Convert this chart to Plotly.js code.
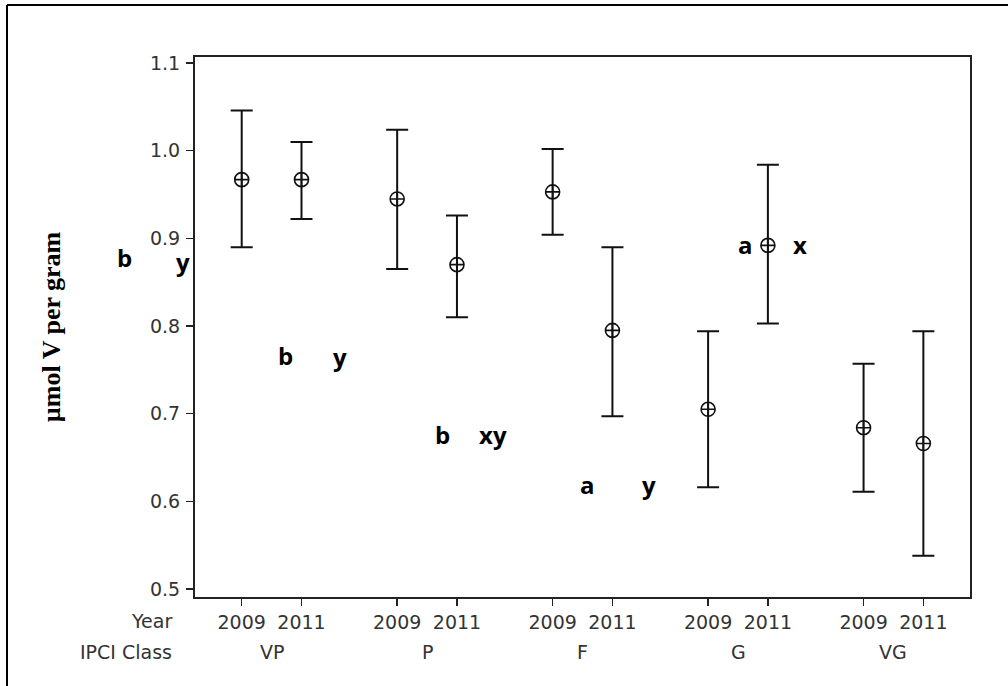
<!DOCTYPE html>
<html><head><meta charset="utf-8">
<script src="https://cdn.plot.ly/plotly-3.0.1.min.js"></script>
<style>html,body{margin:0;padding:0;background:#fff;}#chart{width:1008px;height:686px;}</style>
</head><body><div id="chart"></div>
<script>
// ---- data ----
const classes = ["VP", "P", "F", "G", "VG"];
const years = ["2009", "2011"];
const means = [0.967, 0.967, 0.945, 0.870, 0.953, 0.795, 0.705, 0.892, 0.684, 0.666];
const upper = [1.046, 1.010, 1.024, 0.926, 1.002, 0.890, 0.794, 0.984, 0.757, 0.794];
const lower = [0.890, 0.922, 0.865, 0.810, 0.904, 0.697, 0.616, 0.803, 0.611, 0.538];
const yTicks = [0.5, 0.6, 0.7, 0.8, 0.9, 1.0, 1.1];
const letters = ["b", "y", "b", "y", "b", "xy", "a", "y", "a", "x"];

// ---- layout helpers ----
const W = 1008, H = 686;
const PL = 195, PR = 970, PT = 57, PB = 597;
const GROUP_GAP = 2.6;
const px2x = p => (p - PL) / (PR - PL);
const px2y = p => (PB - p) / (PB - PT);

const xs = [], tickText = [];
classes.forEach((c, g) => years.forEach((yr, j) => { xs.push(g * GROUP_GAP + j); tickText.push(yr); }));
const errPlus = means.map((m, i) => upper[i] - m);
const errMinus = means.map((m, i) => m - lower[i]);

const textColor = "#333";
const tickFont = {family: "DejaVu Sans", size: 19, color: textColor};

const trace = {
  type: "scatter", mode: "markers", x: xs, y: means,
  marker: {symbol: "circle-cross-open", size: 14, color: "#111", line: {width: 1.6, color: "#111"}},
  error_y: {type: "data", symmetric: false, array: errPlus, arrayminus: errMinus,
            color: "#111", thickness: 2, width: 11},
  hoverinfo: "x+y", cliponaxis: false
};

// letter annotation positions (pixel centres)
const letterPos = [[124, 257], [183, 261], [285, 355], [340, 356], [442, 434], [493, 434],
                   [587, 484], [649, 484], [745, 244], [800, 245]];

const annotations = [];
letters.forEach((t, i) => annotations.push({
  text: t, xref: "paper", yref: "paper", x: px2x(letterPos[i][0]), y: px2y(letterPos[i][1]),
  xanchor: "center", yanchor: "middle", showarrow: false,
  font: {family: "Open Sans", size: 24, color: "#000", weight: "bold"}
}));
classes.forEach((c, g) => annotations.push({
  text: c, xref: "x", yref: "paper", x: g * GROUP_GAP + 0.5, y: px2y(652),
  xanchor: "center", yanchor: "middle", showarrow: false, font: tickFont
}));
annotations.push({text: "Year", xref: "paper", yref: "paper", x: px2x(174), y: px2y(621),
  xanchor: "right", yanchor: "middle", showarrow: false, font: tickFont});
annotations.push({text: "IPCI Class", xref: "paper", yref: "paper", x: px2x(174), y: px2y(652),
  xanchor: "right", yanchor: "middle", showarrow: false, font: tickFont});

const layout = {
  width: W, height: H,
  margin: {l: PL, r: W - PR, t: PT, b: H - PB, pad: 0},
  paper_bgcolor: "#fff", plot_bgcolor: "#fff",
  showlegend: false,
  xaxis: {
    range: [-0.781, 12.18], tickmode: "array", tickvals: xs, ticktext: tickText,
    ticks: "outside", ticklen: 7, tickwidth: 1.5, tickcolor: "#222",
    showline: true, linecolor: "#222", linewidth: 2, mirror: true,
    showgrid: false, zeroline: false, tickfont: tickFont, ticklabelstandoff: 0
  },
  yaxis: {
    range: [0.4909, 1.1069], tickmode: "array", tickvals: yTicks,
    ticktext: yTicks.map(v => v.toFixed(1)),
    ticks: "outside", ticklen: 7, tickwidth: 1.5, tickcolor: "#222",
    showline: true, linecolor: "#222", linewidth: 2, mirror: true,
    showgrid: false, zeroline: false, tickfont: tickFont, ticklabelstandoff: 2,
    title: {text: "µmol V per gram", standoff: 82,
            font: {family: "Liberation Serif", size: 26, color: "#000", weight: "bold"}}
  },
  annotations: annotations,
  shapes: [
    {type: "line", xref: "paper", yref: "paper", x0: px2x(7), x1: px2x(W + 5), y0: px2y(5), y1: px2y(5),
     line: {color: "#000", width: 2}},
    {type: "line", xref: "paper", yref: "paper", x0: px2x(7), x1: px2x(7), y0: px2y(5), y1: px2y(H + 5),
     line: {color: "#000", width: 2}}
  ]
};

Plotly.newPlot("chart", [trace], layout, {displayModeBar: false, staticPlot: true});
</script>
</body></html>
